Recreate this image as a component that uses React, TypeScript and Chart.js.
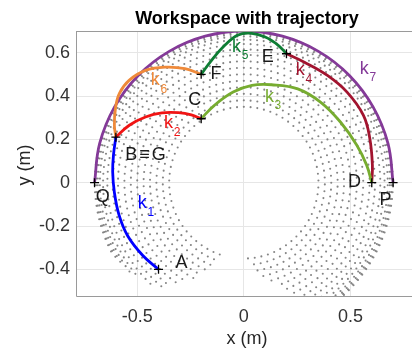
import React, { useEffect, useRef } from "react";
import { Chart, registerables } from "chart.js";

Chart.register(...registerables);

const FONT = "'Liberation Sans', Arial, Helvetica, sans-serif";

const TITLE = "Workspace with trajectory";
const X_TITLE = "x (m)";
const Y_TITLE = "y (m)";

const xTicks = [-0.5, 0, 0.5];
const yTicks = [-0.4, -0.2, 0, 0.2, 0.4, 0.6];
const xMin = -0.787;
const xMax = 0.799;
const yMin = -0.523;
const yMax = 0.7;

// trajectory segments (x, y)
const k1X = [-0.4, -0.475, -0.545, -0.585, -0.607, -0.615, -0.611, -0.6];
const k1Y = [-0.4, -0.335, -0.245, -0.15, -0.045, 0.05, 0.13, 0.21];
const k2X = [-0.6, -0.537, -0.461, -0.384, -0.307, -0.246, -0.2];
const k2Y = [0.21, 0.265, 0.303, 0.322, 0.323, 0.313, 0.295];
const k3X = [-0.2, -0.138, -0.05, 0.038, 0.13, 0.253, 0.361, 0.453, 0.53, 0.576, 0.6];
const k3Y = [0.295, 0.357, 0.418, 0.449, 0.452, 0.433, 0.371, 0.28, 0.173, 0.081, 0];
const k4X = [0.6, 0.603, 0.591, 0.561, 0.484, 0.392, 0.284, 0.2];
const k4Y = [0, 0.08, 0.203, 0.311, 0.418, 0.495, 0.556, 0.595];
const k5X = [0.2, 0.16, 0.1, 0.03, -0.03, -0.095, -0.155, -0.2];
const k5Y = [0.595, 0.635, 0.672, 0.69, 0.68, 0.628, 0.56, 0.5];
const k6X = [-0.2, -0.276, -0.369, -0.461, -0.538, -0.584, -0.602, -0.607, -0.6];
const k6Y = [0.5, 0.526, 0.533, 0.518, 0.472, 0.411, 0.342, 0.264, 0.21];
const k7X = [0.7, 0.676, 0.606, 0.495, 0.35, 0.181, 0, -0.181, -0.35, -0.495, -0.606, -0.676, -0.7];
const k7Y = [0, 0.181, 0.35, 0.495, 0.606, 0.676, 0.7, 0.676, 0.606, 0.495, 0.35, 0.181, 0];

const segX = [k1X, k2X, k3X, k4X, k5X, k6X, k7X];
const segY = [k1Y, k2Y, k3Y, k4Y, k5Y, k6Y, k7Y];
const segColors = ["#0000ff", "#f01414", "#77ac30", "#a2142f", "#0e7d34", "#ef8a3a", "#843a98"];

// key points (crosses)
const ptX = [-0.4, -0.6, -0.2, 0.6, 0.2, -0.2, 0.7, -0.7];
const ptY = [-0.4, 0.21, 0.295, 0, 0.595, 0.5, 0, 0];

// point labels
const lblText = ["A", "B≡G", "C", "D", "E", "F", "P", "Q"];
const lblX = [-0.292, -0.456, -0.23, 0.519, 0.112, -0.131, 0.665, -0.661];
const lblY = [-0.372, 0.126, 0.38, 0.004, 0.58, 0.503, -0.081, -0.065];

// segment labels k_i
const kSub = ["1", "2", "3", "4", "5", "6", "7"];
const kX = [-0.476, -0.353, 0.12, 0.265, -0.034, -0.415, 0.565];
const kY = [-0.096, 0.273, 0.395, 0.518, 0.626, 0.472, 0.526];

// workspace sample rings: radius, angular end (left lobe), start (right lobe), step (deg)
const ringR = [0.35, 0.38, 0.41, 0.44, 0.47, 0.5, 0.53, 0.56, 0.59, 0.615, 0.64, 0.66, 0.675, 0.685, 0.693, 0.699];
const ringLeftEnd = [254, 251, 249, 246, 244, 242, 240, 237, 234, 231, 227, 222, 218, 214, 211, 209];
const ringRightStart = [-89, -86, -83, -79, -76, -72, -69, -66, -63, -60, -58, -56, -54, -53, -52, -50];
const ringStep = [5.2, 4.8, 4.5, 4.2, 4.0, 3.7, 3.5, 3.3, 3.15, 3.0, 2.85, 2.7, 2.6, 2.6, 2.6, 2.6];

function workspaceDots() {
  const pts: { x: number; y: number }[] = [];
  ringR.forEach((r, i) => {
    const st = ringStep[i];
    for (let a = 90; a <= ringLeftEnd[i] + 1e-6; a += st) {
      const t = (a * Math.PI) / 180;
      pts.push({ x: r * Math.cos(t), y: r * Math.sin(t) });
    }
    for (let a = 90 - st; a >= ringRightStart[i] - 1e-6; a -= st) {
      const t = (a * Math.PI) / 180;
      pts.push({ x: r * Math.cos(t), y: r * Math.sin(t) });
    }
  });
  return pts;
}

const annotate = {
  id: "annotate",
  afterDatasetsDraw(chart: any) {
    const { ctx, chartArea, scales } = chart;
    const xs = scales.x;
    const ys = scales.y;
    ctx.save();
    // axes box
    ctx.strokeStyle = "#9a9a9a";
    ctx.lineWidth = 1;
    ctx.beginPath();
    ctx.moveTo(chartArea.left + 0.5, chartArea.top + 0.5);
    ctx.lineTo(chartArea.right, chartArea.top + 0.5);
    ctx.moveTo(chartArea.left + 0.5, chartArea.top);
    ctx.lineTo(chartArea.left + 0.5, chartArea.bottom + 0.5);
    ctx.lineTo(chartArea.right, chartArea.bottom + 0.5);
    ctx.stroke();

    // point labels
    ctx.fillStyle = "#1a1a1a";
    ctx.font = `18px ${FONT}`;
    ctx.textAlign = "center";
    ctx.textBaseline = "middle";
    lblText.forEach((t, i) => {
      ctx.letterSpacing = t.length > 1 ? "2px" : "0px";
      ctx.fillText(t, xs.getPixelForValue(lblX[i]), ys.getPixelForValue(lblY[i]));
    });
    ctx.letterSpacing = "0px";

    // k labels
    kSub.forEach((s, i) => {
      const px = xs.getPixelForValue(kX[i]);
      const py = ys.getPixelForValue(kY[i]);
      ctx.fillStyle = segColors[i];
      ctx.font = `18px ${FONT}`;
      ctx.textAlign = "center";
      ctx.fillText("k", px, py);
      ctx.font = `12px ${FONT}`;
      ctx.fillText(s, px + 8.5, py + 9);
    });

    // title
    ctx.fillStyle = "#000";
    ctx.font = `bold 18px ${FONT}`;
    ctx.textAlign = "center";
    ctx.textBaseline = "alphabetic";
    ctx.fillText(TITLE, 247, 24);

    // axis titles
    ctx.fillStyle = "#262626";
    ctx.font = `18px ${FONT}`;
    ctx.fillText(X_TITLE, 247, 344);
    ctx.translate(30, 165);
    ctx.rotate(-Math.PI / 2);
    ctx.textBaseline = "alphabetic";
    ctx.fillText(Y_TITLE, 0, 0);
    ctx.restore();
  },
};

export default function App() {
  const ref = useRef<HTMLCanvasElement | null>(null);

  useEffect(() => {
    if (!ref.current) return;
    const segDatasets = segX.map((xsArr, i) => ({
      type: "scatter" as const,
      data: xsArr.map((x, j) => ({ x, y: segY[i][j] })),
      showLine: true,
      tension: 0.4,
      borderColor: segColors[i],
      backgroundColor: segColors[i],
      borderWidth: 2.8,
      pointRadius: 0,
      order: 1,
      clip: 0,
    }));
    const chart = new Chart(ref.current, {
      type: "scatter",
      data: {
        datasets: [
          {
            data: ptX.map((x, i) => ({ x, y: ptY[i] })),
            pointStyle: "cross",
            pointRadius: 4.5,
            borderWidth: 1.3,
            borderColor: "#000",
            backgroundColor: "#000",
            showLine: false,
            order: 0,
            clip: false,
          } as any,
          ...segDatasets,
          {
            data: workspaceDots(),
            pointRadius: 1.05,
            pointBorderWidth: 0,
            borderWidth: 0,
            backgroundColor: "#858585",
            borderColor: "#858585",
            showLine: false,
            order: 2,
            clip: 0,
          } as any,
        ],
      },
      options: {
        responsive: false,
        animation: false,
        devicePixelRatio: 1,
        events: [],
        layout: { padding: { top: 31, left: 0, right: 0, bottom: 0 } },
        plugins: {
          legend: { display: false },
          title: { display: false },
          tooltip: { enabled: false },
        },
        scales: {
          x: {
            type: "linear",
            min: xMin,
            max: xMax,
            afterBuildTicks: (s: any) => {
              s.ticks = xTicks.map((v) => ({ value: v }));
            },
            afterFit: (s: any) => {
              s.height = 53;
            },
            grid: { color: "#e6e6e6", drawTicks: false },
            border: { display: false },
            ticks: {
              padding: 10,
              autoSkip: false,
              maxRotation: 0,
              color: "#333",
              font: { family: FONT, size: 18 },
              callback: (v: any) => String(v),
            },
          },
          y: {
            type: "linear",
            min: yMin,
            max: yMax,
            afterBuildTicks: (s: any) => {
              s.ticks = yTicks.map((v) => ({ value: v }));
            },
            afterFit: (s: any) => {
              s.width = 76;
            },
            grid: { color: "#e6e6e6", drawTicks: false },
            border: { display: false },
            ticks: {
              padding: 6,
              autoSkip: false,
              color: "#333",
              font: { family: FONT, size: 18 },
              callback: (v: any) => String(v),
            },
          },
        },
      },
      plugins: [annotate],
    });
    return () => chart.destroy();
  }, []);

  return (
    <div
      style={{
        position: "absolute",
        left: 0,
        top: 0,
        width: 412,
        height: 349,
        overflow: "hidden",
        background: "#fff",
      }}
    >
      <canvas ref={ref} width={420} height={349} style={{ display: "block", width: 420, height: 349 }} />
    </div>
  );
}
